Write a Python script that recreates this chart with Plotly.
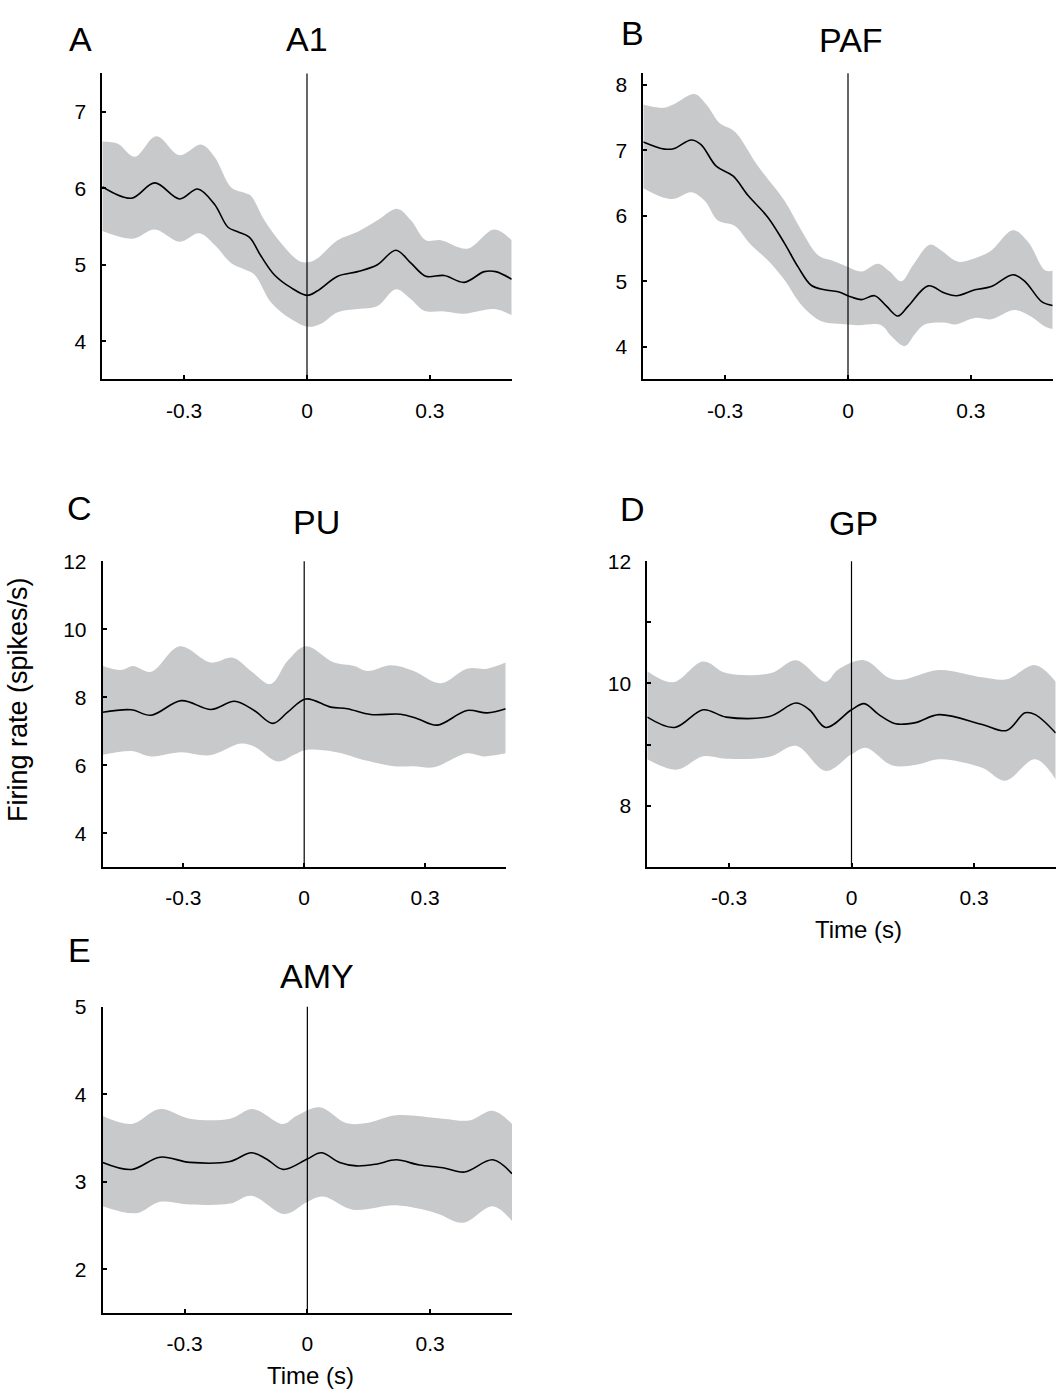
import plotly.graph_objects as go

# ---------------- data ----------------
# Panel A : A1
tA_mean = [-0.5, -0.429, -0.372, -0.311, -0.267, -0.226, -0.193, -0.169, -0.141, -0.112, -0.080, -0.039, 0.0, 0.026, 0.075, 0.124, 0.172, 0.217, 0.254, 0.290, 0.335, 0.384, 0.433, 0.461, 0.5]
A_mean = [6.02, 5.87, 6.07, 5.86, 5.99, 5.79, 5.49, 5.43, 5.36, 5.11, 4.87, 4.70, 4.60, 4.66, 4.85, 4.91, 5.00, 5.19, 5.02, 4.85, 4.86, 4.77, 4.91, 4.91, 4.81]
tA_up = [-0.5, -0.462, -0.421, -0.368, -0.311, -0.259, -0.226, -0.185, -0.153, -0.137, -0.104, -0.063, -0.015, 0.018, 0.075, 0.124, 0.172, 0.221, 0.254, 0.290, 0.327, 0.392, 0.457, 0.5]
A_up = [6.61, 6.58, 6.41, 6.68, 6.43, 6.57, 6.41, 6.01, 5.94, 5.90, 5.58, 5.28, 5.04, 5.06, 5.32, 5.43, 5.58, 5.73, 5.58, 5.32, 5.32, 5.21, 5.46, 5.32]
tA_lo = [-0.5, -0.425, -0.372, -0.311, -0.263, -0.226, -0.185, -0.153, -0.128, -0.088, -0.039, 0.002, 0.034, 0.075, 0.124, 0.172, 0.217, 0.254, 0.286, 0.335, 0.384, 0.457, 0.5]
A_lo = [5.44, 5.34, 5.46, 5.30, 5.41, 5.26, 5.02, 4.94, 4.87, 4.51, 4.29, 4.19, 4.23, 4.38, 4.42, 4.46, 4.68, 4.55, 4.40, 4.39, 4.36, 4.42, 4.34]

# Panel B : PAF
tB_mean = [-0.5, -0.448, -0.424, -0.383, -0.359, -0.322, -0.281, -0.244, -0.196, -0.155, -0.122, -0.090, -0.057, -0.024, 0.008, 0.033, 0.065, 0.094, 0.122, 0.147, 0.196, 0.236, 0.265, 0.310, 0.350, 0.403, 0.432, 0.473, 0.5]
B_mean = [7.13, 7.02, 7.03, 7.16, 7.09, 6.76, 6.61, 6.31, 5.98, 5.58, 5.22, 4.94, 4.87, 4.84, 4.76, 4.72, 4.78, 4.62, 4.47, 4.62, 4.93, 4.82, 4.78, 4.87, 4.92, 5.10, 5.00, 4.69, 4.63]
tB_up = [-0.5, -0.452, -0.424, -0.375, -0.346, -0.314, -0.277, -0.220, -0.155, -0.114, -0.073, -0.041, 0.0, 0.033, 0.073, 0.102, 0.130, 0.159, 0.200, 0.228, 0.269, 0.318, 0.350, 0.403, 0.440, 0.481, 0.5]
B_up = [7.70, 7.65, 7.71, 7.86, 7.70, 7.42, 7.29, 6.76, 6.23, 5.78, 5.40, 5.32, 5.22, 5.15, 5.27, 5.15, 5.00, 5.25, 5.56, 5.47, 5.30, 5.37, 5.47, 5.78, 5.60, 5.17, 5.16]
tB_lo = [-0.5, -0.452, -0.424, -0.383, -0.350, -0.318, -0.277, -0.236, -0.196, -0.155, -0.114, -0.065, -0.024, 0.024, 0.081, 0.106, 0.139, 0.163, 0.187, 0.236, 0.261, 0.310, 0.350, 0.407, 0.448, 0.481, 0.5]
B_lo = [6.42, 6.28, 6.26, 6.36, 6.23, 5.93, 5.85, 5.55, 5.32, 5.02, 4.64, 4.39, 4.35, 4.33, 4.33, 4.16, 4.01, 4.19, 4.34, 4.37, 4.34, 4.44, 4.42, 4.56, 4.46, 4.31, 4.27]

# Panel C : PU
tC_mean = [-0.5, -0.429, -0.380, -0.305, -0.231, -0.173, -0.124, -0.078, -0.041, 0.004, 0.066, 0.107, 0.165, 0.239, 0.281, 0.330, 0.404, 0.454, 0.5]
C_mean = [7.56, 7.63, 7.47, 7.90, 7.64, 7.88, 7.61, 7.23, 7.56, 7.95, 7.71, 7.66, 7.49, 7.50, 7.37, 7.18, 7.61, 7.54, 7.66]
tC_up = [-0.5, -0.454, -0.425, -0.380, -0.309, -0.231, -0.177, -0.132, -0.083, -0.041, 0.004, 0.074, 0.124, 0.157, 0.215, 0.272, 0.338, 0.404, 0.454, 0.5]
C_up = [8.92, 8.80, 8.92, 8.75, 9.50, 9.02, 9.16, 8.77, 8.39, 9.07, 9.50, 9.02, 8.92, 8.77, 8.94, 8.77, 8.41, 8.84, 8.84, 9.02]
tC_lo = [-0.5, -0.429, -0.380, -0.305, -0.235, -0.157, -0.124, -0.066, -0.025, 0.004, 0.074, 0.157, 0.223, 0.272, 0.322, 0.404, 0.446, 0.5]
C_lo = [6.31, 6.42, 6.26, 6.38, 6.29, 6.64, 6.55, 6.11, 6.31, 6.45, 6.40, 6.13, 5.97, 5.97, 5.94, 6.35, 6.26, 6.35]

# Panel D : GP
tD_mean = [-0.5, -0.433, -0.363, -0.307, -0.201, -0.136, -0.103, -0.063, 0.0, 0.031, 0.067, 0.108, 0.157, 0.214, 0.320, 0.380, 0.425, 0.450, 0.5]
D_mean = [9.45, 9.28, 9.57, 9.45, 9.46, 9.68, 9.57, 9.28, 9.57, 9.67, 9.49, 9.34, 9.36, 9.49, 9.33, 9.23, 9.52, 9.49, 9.19]
tD_up = [-0.5, -0.437, -0.363, -0.307, -0.197, -0.136, -0.063, -0.034, 0.031, 0.092, 0.124, 0.214, 0.320, 0.380, 0.450, 0.5]
D_up = [10.20, 10.02, 10.36, 10.17, 10.17, 10.38, 10.03, 10.22, 10.38, 10.09, 10.06, 10.22, 10.10, 10.07, 10.30, 10.03]
tD_lo = [-0.5, -0.428, -0.363, -0.307, -0.201, -0.136, -0.063, 0.0, 0.035, 0.100, 0.165, 0.214, 0.320, 0.376, 0.450, 0.5]
D_lo = [8.76, 8.59, 8.81, 8.77, 8.80, 8.98, 8.57, 8.84, 8.95, 8.66, 8.68, 8.76, 8.62, 8.41, 8.76, 8.43]

# Panel E : AMY
tE_mean = [-0.5, -0.429, -0.360, -0.287, -0.189, -0.137, -0.100, -0.059, 0.0, 0.034, 0.079, 0.120, 0.168, 0.217, 0.274, 0.331, 0.384, 0.453, 0.5]
E_mean = [3.22, 3.14, 3.28, 3.22, 3.23, 3.33, 3.26, 3.14, 3.26, 3.33, 3.22, 3.18, 3.20, 3.25, 3.19, 3.16, 3.11, 3.25, 3.09]
tE_up = [-0.5, -0.429, -0.360, -0.287, -0.189, -0.133, -0.059, -0.027, 0.030, 0.095, 0.144, 0.217, 0.331, 0.396, 0.453, 0.5]
E_up = [3.75, 3.66, 3.83, 3.72, 3.72, 3.83, 3.66, 3.75, 3.85, 3.67, 3.67, 3.76, 3.72, 3.70, 3.81, 3.66]
tE_lo = [-0.5, -0.417, -0.360, -0.287, -0.189, -0.137, -0.055, 0.0, 0.038, 0.111, 0.217, 0.315, 0.380, 0.453, 0.5]
E_lo = [2.72, 2.64, 2.77, 2.74, 2.75, 2.84, 2.63, 2.77, 2.83, 2.68, 2.73, 2.64, 2.53, 2.72, 2.55]

x_tickvals = [-0.3, 0, 0.3]
x_ticktext = ["-0.3", "0", "0.3"]

panels = [
    dict(name="A1", letter="A", tm=tA_mean, m=A_mean, tu=tA_up, u=A_up, tl=tA_lo, l=A_lo,
         yrange=[3.5, 7.5], yticks=[4, 5, 6, 7], yticktext=["4", "5", "6", "7"]),
    dict(name="PAF", letter="B", tm=tB_mean, m=B_mean, tu=tB_up, u=B_up, tl=tB_lo, l=B_lo,
         yrange=[3.5, 8.18], yticks=[4, 5, 6, 7, 8], yticktext=["4", "5", "6", "7", "8"]),
    dict(name="PU", letter="C", tm=tC_mean, m=C_mean, tu=tC_up, u=C_up, tl=tC_lo, l=C_lo,
         yrange=[3, 12], yticks=[4, 6, 8, 10, 12], yticktext=["4", "6", "8", "10", "12"]),
    dict(name="GP", letter="D", tm=tD_mean, m=D_mean, tu=tD_up, u=D_up, tl=tD_lo, l=D_lo,
         yrange=[7, 12], yticks=[8, 9, 10, 11, 12], yticktext=["8", "", "10", "", "12"]),
    dict(name="AMY", letter="E", tm=tE_mean, m=E_mean, tu=tE_up, u=E_up, tl=tE_lo, l=E_lo,
         yrange=[1.5, 5], yticks=[2, 3, 4, 5], yticktext=["2", "3", "4", "5"]),
]

# ---------------- layout geometry (pixels) ----------------
W, H = 1061, 1389
boxes = [  # x0, x1, ytop, ybottom
    (102.3, 511.7, 62.0, 370.7),
    (643.3, 1052.7, 61.7, 370.7),
    (102.7, 505.7, 554.0, 862.7),
    (647.3, 1055.7, 554.0, 862.3),
    (102.7, 512.0, 1003.3, 1312.3),
]
title_pos = [(307, 27), (851, 28), (316, 514), (853, 515), (317, 972)]
letter_pos = [(80, 27), (632, 21), (79, 500), (632, 501), (79, 946)]

FONT = "Arial, Liberation Sans, Helvetica, sans-serif"
BAND = "rgb(200,201,203)"

fig = go.Figure()
layout = dict(
    width=W, height=H, margin=dict(l=0, r=0, t=0, b=0),
    paper_bgcolor="white", plot_bgcolor="white", showlegend=False,
    font=dict(family=FONT, color="black"),
)
annotations = []
shapes = []

for i, (p, (x0, x1, yt, yb)) in enumerate(zip(panels, boxes)):
    n = i + 1
    xa = "x" if n == 1 else f"x{n}"
    ya = "y" if n == 1 else f"y{n}"
    fig.add_trace(go.Scatter(x=p["tu"], y=p["u"], mode="lines", line=dict(width=0, shape="spline", color=BAND),
                             hoverinfo="skip", xaxis=xa, yaxis=ya))
    fig.add_trace(go.Scatter(x=p["tl"], y=p["l"], mode="lines", line=dict(width=0, shape="spline", color=BAND),
                             fill="tonexty", fillcolor=BAND, hoverinfo="skip", xaxis=xa, yaxis=ya))
    fig.add_trace(go.Scatter(x=p["tm"], y=p["m"], mode="lines", line=dict(width=1.6, shape="spline", color="black"),
                             xaxis=xa, yaxis=ya))
    xkey = "xaxis" if n == 1 else f"xaxis{n}"
    ykey = "yaxis" if n == 1 else f"yaxis{n}"
    layout[xkey] = dict(
        domain=[x0 / W, x1 / W], anchor=ya, range=[-0.5, 0.5],
        tickvals=x_tickvals, ticktext=x_ticktext, ticks="inside", ticklen=4, tickwidth=1.5,
        tickcolor="black", showline=True, linecolor="black", linewidth=2, showgrid=False,
        zeroline=False, tickfont=dict(size=21, family=FONT, color="black"), ticklabelstandoff=11,
    )
    layout[ykey] = dict(
        domain=[1 - yb / H, 1 - yt / H], anchor=xa, range=p["yrange"],
        tickvals=p["yticks"], ticktext=p["yticktext"], ticks="inside", ticklen=4, tickwidth=1.5,
        tickcolor="black", showline=True, linecolor="black", linewidth=2, showgrid=False,
        zeroline=False, tickfont=dict(size=21, family=FONT, color="black"), ticklabelstandoff=10,
    )
    shapes.append(dict(type="line", xref=xa, yref=f"{ya} domain", x0=0, x1=0, y0=0, y1=1,
                       line=dict(color="black", width=1.2), layer="above"))
    tx, ty = title_pos[i]
    annotations.append(dict(text=p["name"], x=tx / W, y=1 - ty / H, xref="paper", yref="paper",
                            showarrow=False, xanchor="center", yanchor="middle",
                            font=dict(size=34, family=FONT, color="black")))
    lx, ly = letter_pos[i]
    annotations.append(dict(text=p["letter"], x=lx / W, y=1 - ly / H, xref="paper", yref="paper",
                            showarrow=False, xanchor="center", yanchor="middle",
                            font=dict(size=34, family=FONT, color="black")))

annotations.append(dict(text="Firing rate (spikes/s)", x=18 / W, y=1 - 694 / H, xref="paper", yref="paper",
                        showarrow=False, textangle=-90, xanchor="center", yanchor="middle",
                        font=dict(size=27, family=FONT, color="black")))
annotations.append(dict(text="Time (s)", x=858 / W, y=1 - 925 / H, xref="paper", yref="paper",
                        showarrow=False, xanchor="center", yanchor="middle",
                        font=dict(size=24, family=FONT, color="black")))
annotations.append(dict(text="Time (s)", x=310 / W, y=1 - 1375 / H, xref="paper", yref="paper",
                        showarrow=False, xanchor="center", yanchor="middle",
                        font=dict(size=24, family=FONT, color="black")))

layout["annotations"] = annotations
layout["shapes"] = shapes
fig.update_layout(**layout)
fig.write_html("out.html")
